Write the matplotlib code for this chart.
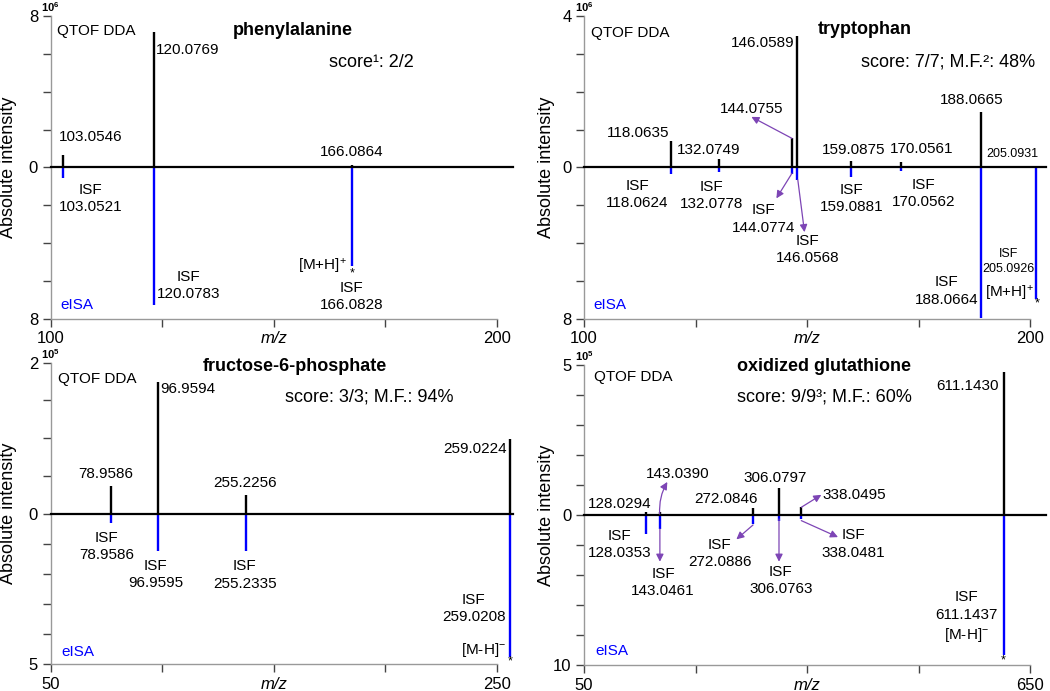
import numpy as np
import matplotlib.pyplot as plt

plt.rcParams['font.family'] = ['Liberation Sans', 'DejaVu Sans']
plt.rcParams['mathtext.fontset'] = 'custom'
plt.rcParams['mathtext.rm'] = 'Liberation Sans'
plt.rcParams['mathtext.it'] = 'Liberation Sans:italic'
plt.rcParams['mathtext.bf'] = 'Liberation Sans:bold'

# phenylalanine, intensities in 10^6
phe_mz = [102.7, 123.1, 167.5]
phe_dda = [0.67, 7.14, 0.14]
phe_eisa = [0.56, 7.24, 5.22]

# tryptophan, intensities in 10^6
trp_mz = [119.6, 130.3, 146.7, 147.8, 159.8, 171.0, 189.0, 201.3]
trp_dda = [0.70, 0.22, 0.77, 3.48, 0.18, 0.14, 1.47, 0.05]
trp_eisa = [0.34, 0.25, 0.32, 0.68, 0.52, 0.18, 7.95, 6.97]

# fructose-6-phosphate, intensities in 10^5
f6p_mz = [77.2, 98.1, 137.6, 256.0]
f6p_dda = [0.37, 1.75, 0.25, 0.99]
f6p_eisa = [0.31, 1.25, 1.25, 4.75]

# oxidized glutathione, intensities in 10^5
gssg_mz = [133.8, 151.7, 277.2, 312.1, 342.1, 614.1]
gssg_dda = [0.11, 0.11, 0.23, 0.90, 0.26, 4.77]
gssg_eisa = [1.25, 0.92, 0.59, 0.37, 0.26, 9.34]

PURPLE = '#7d45b5'

fig = plt.figure(figsize=(10.5, 6.91), dpi=100)
ax1 = fig.add_axes([0.0481, 0.5384, 0.4252, 0.4385])
ax2 = fig.add_axes([0.5562, 0.5384, 0.4251, 0.4385])
ax3 = fig.add_axes([0.0481, 0.0386, 0.4252, 0.4365])
ax4 = fig.add_axes([0.5562, 0.0376, 0.4251, 0.4340])


def panel(ax, mz, dda, eisa, xlim, top_max, top_n, bot_max, bot_n, expo, ylab_x):
    top = np.array(dda) / top_max
    bot = -np.array(eisa) / bot_max
    ax.set_xlim(xlim)
    ax.set_ylim(-1, 1)
    ax.set_xticks(np.linspace(xlim[0], xlim[1], 5))
    ax.set_xticklabels([str(xlim[0]), '', 'm/z', '', str(xlim[1])])
    ax.get_xticklabels()[2].set_fontstyle('italic')
    yt = list(-np.arange(bot_n, 0, -1) / bot_n) + [0] + list(np.arange(1, top_n + 1) / top_n)
    ylab = [''] * len(yt)
    ylab[0] = str(bot_max)
    ylab[bot_n] = '0'
    ylab[-1] = str(top_max)
    ax.set_yticks(yt)
    ax.set_yticklabels(ylab)
    for s in ['top', 'right']:
        ax.spines[s].set_visible(False)
    for s in ['left', 'bottom']:
        ax.spines[s].set_color('#999999')
        ax.spines[s].set_linewidth(1.0)
    ax.tick_params(direction='out', length=6, width=1, color='#444444', labelsize=12, pad=3)
    ax.set_ylabel('Absolute intensity', fontsize=13)
    ax.yaxis.set_label_coords(ylab_x, 0.5)
    ax.vlines(mz, 0, top, color='black', lw=1.7, clip_on=False, zorder=2)
    ax.vlines(mz, 0, bot, color='blue', lw=1.7, clip_on=False, zorder=2)
    ax.plot([0, 1.035], [0, 0], color='black', lw=1.6, transform=ax.get_yaxis_transform(),
            clip_on=False, zorder=3)
    ax.text(0, 1.03, r'$\mathbf{10}^{\mathbf{%d}}$' % expo, transform=ax.transAxes,
            ha='center', va='center', fontsize=8)


def lab(ax, x, y, s, ha='center', fs=11, **kw):
    ax.text(x, y, s, ha=ha, va='center', fontsize=fs, linespacing=1.3, **kw)


def arr(ax, p0, p1, rad=0.0):
    ax.annotate('', xy=p1, xytext=p0,
                arrowprops=dict(arrowstyle='-|>', color=PURPLE, lw=0.9, mutation_scale=11,
                                shrinkA=0, shrinkB=0, connectionstyle='arc3,rad=%s' % rad))


# phenylalanine
panel(ax1, phe_mz, phe_dda, phe_eisa, (100, 200), 8, 4, 8, 4, 6, -0.074)
lab(ax1, 101.5, 0.903, 'QTOF DDA', ha='left')
lab(ax1, 154.3, 0.903, 'phenylalanine', fs=13, fontweight='bold')
lab(ax1, 171.9, 0.695, 'score¹: 2/2', fs=13)
lab(ax1, 123.6, 0.776, '120.0769', ha='left')
lab(ax1, 109.0, 0.204, '103.0546')
lab(ax1, 167.5, 0.105, '166.0864')
lab(ax1, 109.0, -0.207, 'ISF\n103.0521')
lab(ax1, 131.0, -0.780, 'ISF\n120.0783')
lab(ax1, 166.4, -0.653, r'[M+H]$^{+}$', ha='right')
lab(ax1, 167.5, -0.70, '*', fs=9)
lab(ax1, 167.5, -0.851, 'ISF\n166.0828')
lab(ax1, 102.1, -0.905, 'eISA', ha='left', color='blue')

# tryptophan
panel(ax2, trp_mz, trp_dda, trp_eisa, (100, 200), 4, 4, 8, 4, 6, -0.064)
lab(ax2, 101.6, 0.886, 'QTOF DDA', ha='left')
lab(ax2, 163.0, 0.913, 'tryptophan', fs=13, fontweight='bold')
lab(ax2, 181.6, 0.699, 'score: 7/7; M.F.²: 48%', fs=13)
lab(ax2, 147.05, 0.819, '146.0589', ha='right')
lab(ax2, 137.5, 0.389, '144.0755')
lab(ax2, 112.1, 0.225, '118.0635')
lab(ax2, 128.0, 0.116, '132.0749')
lab(ax2, 160.3, 0.116, '159.0875')
lab(ax2, 175.7, 0.122, '170.0561')
lab(ax2, 186.8, 0.443, '188.0665')
lab(ax2, 195.9, 0.090, '205.0931', fs=9)
lab(ax2, 112.0, -0.178, 'ISF\n118.0624')
lab(ax2, 128.5, -0.187, 'ISF\n132.0778')
lab(ax2, 140.2, -0.340, 'ISF\n144.0774')
lab(ax2, 150.1, -0.540, 'ISF\n146.0568')
lab(ax2, 160.0, -0.207, 'ISF\n159.0881')
lab(ax2, 176.1, -0.171, 'ISF\n170.0562')
lab(ax2, 181.2, -0.816, 'ISF\n188.0664')
lab(ax2, 195.1, -0.620, 'ISF\n205.0926', fs=9)
lab(ax2, 195.4, -0.833, r'[M+H]$^{+}$')
lab(ax2, 201.5, -0.90, '*', fs=9)
lab(ax2, 102.0, -0.911, 'eISA', ha='left', color='blue')
arr(ax2, (146.6, 0.192), (137.5, 0.334))
arr(ax2, (146.6, -0.038), (143.1, -0.204))
arr(ax2, (147.9, -0.082), (149.4, -0.427))

# fructose-6-phosphate
panel(ax3, f6p_mz, f6p_dda, f6p_eisa, (50, 250), 2, 4, 5, 5, 5, -0.074)
lab(ax3, 53.3, 0.892, 'QTOF DDA', ha='left')
lab(ax3, 159.4, 0.974, 'fructose-6-phosphate', fs=13, fontweight='bold')
lab(ax3, 193.0, 0.771, 'score: 3/3; M.F.: 94%', fs=13)
lab(ax3, 99.0, 0.824, '96.9594', ha='left')
lab(ax3, 74.6, 0.264, '78.9586')
lab(ax3, 137.0, 0.203, '255.2256')
lab(ax3, 254.5, 0.430, '259.0224', ha='right')
lab(ax3, 75.1, -0.217, 'ISF\n78.9586')
lab(ax3, 97.0, -0.404, 'ISF\n96.9595')
lab(ax3, 137.0, -0.408, 'ISF\n255.2335')
lab(ax3, 239.6, -0.630, 'ISF\n259.0208')
lab(ax3, 254.2, -0.905, r'[M-H]$^{-}$', ha='right')
lab(ax3, 256.0, -0.98, '*', fs=9)
lab(ax3, 54.9, -0.916, 'eISA', ha='left', color='blue')

# oxidized glutathione
panel(ax4, gssg_mz, gssg_dda, gssg_eisa, (50, 650), 5, 5, 10, 5, 5, -0.064)
lab(ax4, 63.4, 0.921, 'QTOF DDA', ha='left')
lab(ax4, 372.6, 0.993, 'oxidized glutathione', fs=13, fontweight='bold')
lab(ax4, 373.5, 0.790, 'score: 9/9³; M.F.: 60%', fs=13)
lab(ax4, 607.4, 0.858, '611.1430', ha='right')
lab(ax4, 175.5, 0.271, '143.0390')
lab(ax4, 97.9, 0.074, '128.0294')
lab(ax4, 241.3, 0.108, '272.0846')
lab(ax4, 306.3, 0.248, '306.0797')
lab(ax4, 370.4, 0.135, '338.0495', ha='left')
lab(ax4, 97.9, -0.197, 'ISF\n128.0353')
lab(ax4, 156.2, -0.449, 'ISF\n143.0461')
lab(ax4, 232.4, -0.258, 'ISF\n272.0886')
lab(ax4, 314.4, -0.435, 'ISF\n306.0763')
lab(ax4, 411.6, -0.193, 'ISF\n338.0481')
lab(ax4, 564.0, -0.680, 'ISF\n611.1437\n[M-H]$^{-}$')
lab(ax4, 614.1, -0.97, '*', fs=9)
lab(ax4, 65.7, -0.908, 'eISA', ha='left', color='blue')
arr(ax4, (151.7, 0.007), (162.0, 0.221), rad=-0.15)
arr(ax4, (152.0, -0.092), (152.0, -0.311))
arr(ax4, (277.2, -0.066), (254.8, -0.162))
arr(ax4, (312.1, -0.026), (312.1, -0.311))
arr(ax4, (342.1, 0.052), (369.0, 0.135))
arr(ax4, (342.1, -0.037), (391.4, -0.147))

plt.savefig('out.png', dpi=100)
